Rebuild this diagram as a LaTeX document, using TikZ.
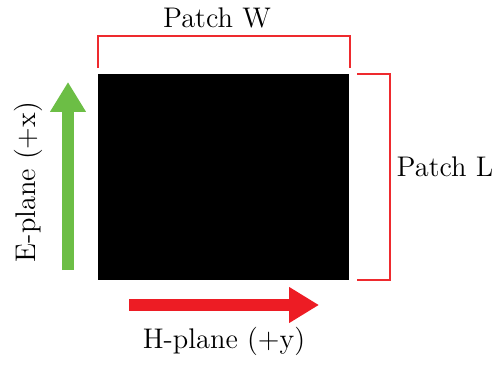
\documentclass[tikz,border=0pt]{standalone}
\usepackage{tikz}
\usetikzlibrary{arrows.meta,calc,positioning}
\definecolor{bracered}{HTML}{EE2A2E}
\definecolor{hred}{HTML}{ED1C24}
\definecolor{egreen}{HTML}{6CBE45}
\tikzset{
  dimbrace/.style={draw=bracered,line width=1.25pt},
  fieldarr/.style={-{Triangle[length=15pt,width=17pt]},line width=6pt},
  dimlabel/.style={font=\fontsize{14.2}{17}\selectfont,inner sep=0pt}
}
\begin{document}
\begin{tikzpicture}[x=0.5pt,y=0.5pt]
  \useasboundingbox (0,0) rectangle (496,364);
  % the patch itself
  \node[fill=black,minimum width=125.5pt,minimum height=103pt,inner sep=0pt] (patch) at (223.5,187) {};
  % width bracket
  \coordinate (wl) at (98,296);
  \coordinate (wlt) at (98,328);
  \coordinate (wrt) at (350,328);
  \coordinate (wr) at (350,296);
  \draw[dimbrace] (wl) -- (wlt) -- (wrt) -- (wr);
  \node[dimlabel] (wlab) at (217,346) {Patch W};
  % length bracket
  \coordinate (lt) at (357,290);
  \coordinate (ltr) at (390,290);
  \coordinate (lbr) at (390,84);
  \coordinate (lb) at (357,84);
  \draw[dimbrace] (lt) -- (ltr) -- (lbr) -- (lb);
  \node[dimlabel] (llab) at (445,197) {Patch L};
  % field directions
  \coordinate (ebot) at (68,94);
  \coordinate (etop) at (68,282);
  \draw[fieldarr,color=egreen] (ebot) -- (etop);
  \node[dimlabel,rotate=90] (elab) at (28,182) {E-plane (+x)};
  \coordinate (hl) at (129,59);
  \coordinate (hr) at (319,59);
  \draw[fieldarr,color=hred] (hl) -- (hr);
  \node[dimlabel] (hlab) at (224,23) {H-plane (+y)};
\end{tikzpicture}
\end{document}
